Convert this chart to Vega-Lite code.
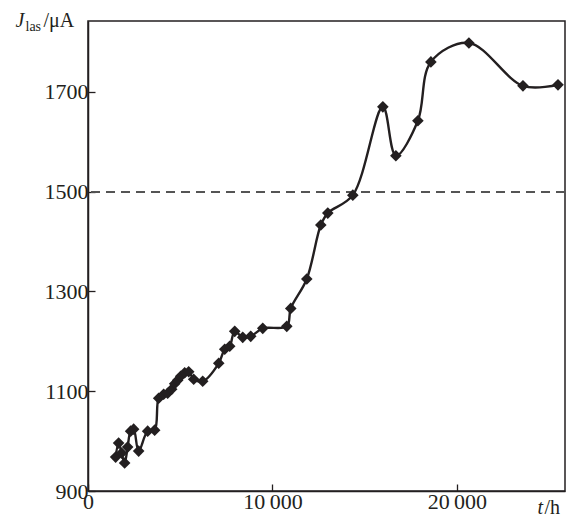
{
  "$schema": "https://vega.github.io/schema/vega-lite/v6.json",
  "width": 477,
  "height": 470,
  "autosize": {"type": "none"},
  "padding": {"left": 88, "top": 21, "right": 6, "bottom": 25},
  "background": "white",
  "config": {
    "view": {"stroke": "#231f20", "strokeWidth": 1.5},
    "font": "Liberation Serif",
    "axis": {
      "labelFont": "Liberation Serif",
      "titleFont": "Liberation Serif",
      "labelFontSize": 22,
      "titleFontSize": 20,
      "labelColor": "#231f20",
      "titleColor": "#231f20",
      "domainColor": "#231f20",
      "domainWidth": 1.5,
      "tickColor": "#231f20",
      "tickWidth": 1.3,
      "grid": false,
      "titleFontWeight": "normal",
      "titleAngle": 0,
      "titleBaseline": "alphabetic"
    }
  },
  "data": {
    "values": [
      {"t": 1498, "J": 968},
      {"t": 1660, "J": 996},
      {"t": 1823, "J": 976},
      {"t": 1986, "J": 956},
      {"t": 2149, "J": 988},
      {"t": 2311, "J": 1020},
      {"t": 2474, "J": 1024},
      {"t": 2746, "J": 980},
      {"t": 3234, "J": 1020},
      {"t": 3614, "J": 1022},
      {"t": 3831, "J": 1086},
      {"t": 4102, "J": 1094},
      {"t": 4319, "J": 1096},
      {"t": 4536, "J": 1104},
      {"t": 4699, "J": 1115},
      {"t": 4862, "J": 1122},
      {"t": 5025, "J": 1130},
      {"t": 5242, "J": 1137},
      {"t": 5459, "J": 1139},
      {"t": 5730, "J": 1124},
      {"t": 6219, "J": 1120},
      {"t": 7087, "J": 1156},
      {"t": 7412, "J": 1184},
      {"t": 7683, "J": 1190},
      {"t": 7954, "J": 1220},
      {"t": 8388, "J": 1208},
      {"t": 8822, "J": 1210},
      {"t": 9474, "J": 1226},
      {"t": 10776, "J": 1230},
      {"t": 10993, "J": 1266},
      {"t": 11861, "J": 1325},
      {"t": 12621, "J": 1433},
      {"t": 13000, "J": 1457},
      {"t": 14357, "J": 1493},
      {"t": 15985, "J": 1670},
      {"t": 16690, "J": 1572},
      {"t": 17884, "J": 1642},
      {"t": 18589, "J": 1760},
      {"t": 20651, "J": 1798},
      {"t": 23581, "J": 1712},
      {"t": 25480, "J": 1714}
    ]
  },
  "resolve": {"axis": {"x": "independent", "y": "independent"}},
  "layer": [
    {
      "mark": {"type": "rule", "color": "#555555", "strokeWidth": 1.2, "strokeDash": [9, 6]},
      "encoding": {
        "y": {"datum": 1500, "type": "quantitative", "scale": {"domain": [900, 1842], "nice": false, "zero": false}, "axis": null}
      }
    },
    {
      "mark": {"type": "line", "interpolate": "catmull-rom", "color": "#231f20", "strokeWidth": 2.4},
      "encoding": {
        "x": {
          "field": "t",
          "type": "quantitative",
          "scale": {"domain": [0, 25860], "nice": false, "zero": false},
          "axis": {
            "orient": "bottom",
            "values": [0, 10000, 20000],
            "labelExpr": "datum.value == 0 ? '0' : format(datum.value / 1000, 'd') + '\u2009000'",
            "tickSize": -7,
            "labelPadding": 7,
            "labelFlush": false,
            "title": "t",
            "titleFontStyle": "italic",
            "titleAlign": "left",
            "titleX": 449,
            "titleY": 22
          }
        },
        "y": {
          "field": "J",
          "type": "quantitative",
          "scale": {"domain": [900, 1842], "nice": false, "zero": false},
          "axis": {
            "orient": "left",
            "values": [900, 1100, 1300, 1500, 1700],
            "format": "d",
            "tickSize": -7,
            "labelPadding": 7,
            "labelFlush": false,
            "title": "J",
            "titleFontStyle": "italic",
            "titleAlign": "left",
            "titleX": -73,
            "titleY": 5
          }
        }
      }
    },
    {
      "mark": {"type": "point", "shape": "diamond", "filled": true, "size": 135, "color": "#231f20", "opacity": 1},
      "encoding": {
        "x": {
          "field": "t",
          "type": "quantitative",
          "axis": {
            "orient": "bottom",
            "labels": false, "ticks": false, "domain": false,
            "title": "/h",
            "titleAlign": "left",
            "titleX": 456,
            "titleY": 22
          }
        },
        "y": {
          "field": "J",
          "type": "quantitative",
          "axis": {
            "orient": "left",
            "labels": false, "ticks": false, "domain": false,
            "title": "/μA",
            "titleAlign": "left",
            "titleX": -45,
            "titleY": 5
          }
        }
      }
    },
    {
      "mark": {"type": "point", "opacity": 0},
      "encoding": {
        "x": {"field": "t", "type": "quantitative", "axis": null},
        "y": {
          "field": "J",
          "type": "quantitative",
          "axis": {
            "orient": "left",
            "labels": false, "ticks": false, "domain": false,
            "title": "las",
            "titleFontSize": 14,
            "titleAlign": "left",
            "titleX": -63,
            "titleY": 9
          }
        }
      }
    }
  ]
}
